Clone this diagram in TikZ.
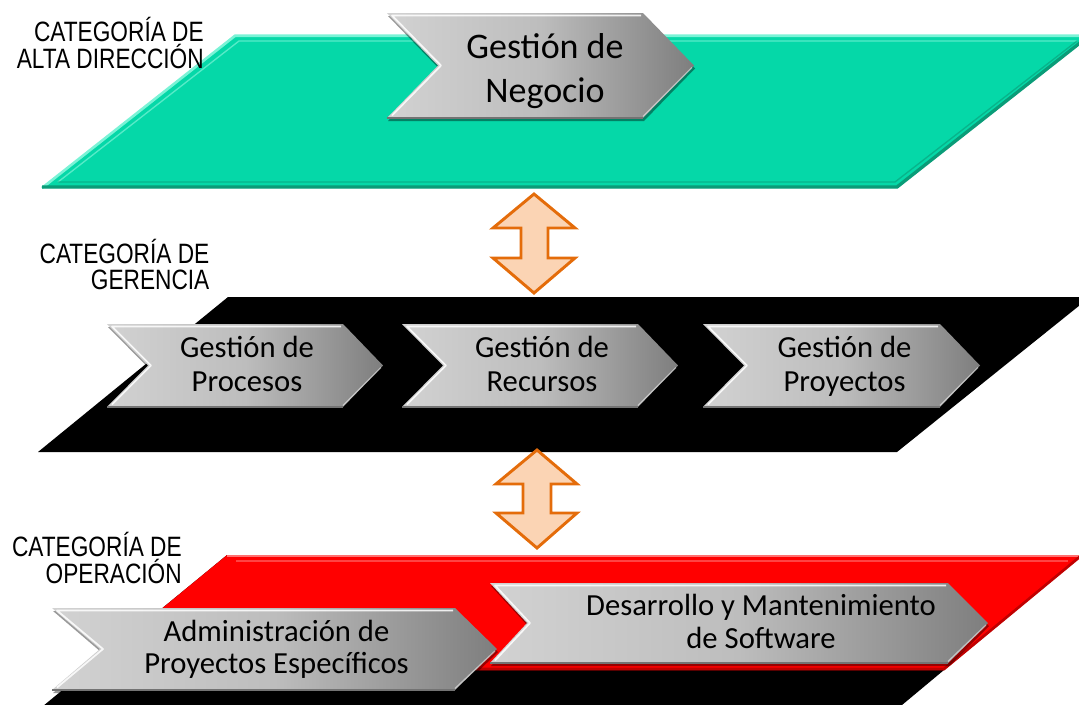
\documentclass[tikz,border=0pt]{standalone}
\usepackage{fontspec}
\setmainfont{Carlito}
\newfontfamily\narrowfont[FakeStretch=0.81]{Liberation Sans}
\definecolor{lvgreen}{HTML}{05D8A8}
\definecolor{lvgreenD}{HTML}{0A9C78}
\definecolor{lvgreenL}{HTML}{7AF3D6}
\definecolor{arrowO}{HTML}{E46C0A}
\definecolor{arrowF}{HTML}{FBD4B4}
\definecolor{chevL}{HTML}{D2D2D2}
\definecolor{chevM}{HTML}{BDBDBD}
\definecolor{chevR}{HTML}{7E7E7E}
\definecolor{redD}{HTML}{C00000}
\definecolor{redL}{HTML}{FF7070}
\newcommand\mychev[6]{%
  \fill[black,opacity=.4] ({#1+1},{#2+3}) -- ({#1+#3-#5+1},{#2+3}) -- ({#1+#3+1},{#2+#4/2+3}) -- ({#1+#3-#5+1},{#2+#4+3}) -- ({#1+1},{#2+#4+3}) -- ({#1+#6+1},{#2+#4/2+3}) -- cycle;
  \shade[left color=chevL, right color=chevR, middle color=chevM] ({#1},{#2}) -- ({#1+#3-#5},{#2}) -- ({#1+#3},{#2+#4/2}) -- ({#1+#3-#5},{#2+#4}) -- ({#1},{#2+#4}) -- ({#1+#6},{#2+#4/2}) -- cycle;
  \draw[white,line width=1.3pt,opacity=.85,line join=round] ({#1+#3-#5-2},{#2+2.5}) -- ({#1+5},{#2+2.5}) -- ({#1+#6+3},{#2+#4/2}) -- ({#1+5},{#2+#4-2.5});
  \draw[white,line width=1pt,opacity=.5] ({#1+#3-2},{#2+#4/2+2}) -- ({#1+#3-#5},{#2+#4-1.5});
  \draw[black!55,line width=0.8pt] ({#1},{#2+#4}) -- ({#1+#3-#5},{#2+#4});
}
\tikzset{
  chevtext/.style={align=center, inner sep=0pt, text=black, anchor=base},
  lbl/.style={align=right, inner sep=0pt, anchor=base east, font=\narrowfont\fontsize{21}{20}\selectfont},
  dblarrow/.style={draw=arrowO, fill=arrowF, line width=2.2pt, line join=miter},
}
\begin{document}
\begin{tikzpicture}[x=0.75pt,y=-0.75pt]
\useasboundingbox (0,0) rectangle (1079,704);
\clip (0,0) rectangle (1079,704);

% --- top layer (green)
\fill[lvgreen] (42,188) -- (235,35) -- (1090,35) -- (897,188) -- cycle;
\draw[lvgreenL,line width=2pt] (42,188) -- (235,35.8) -- (1090,35.8);
\draw[lvgreenL,opacity=.7,line width=1pt] (58,182) -- (239,41) -- (1077,41);
\draw[lvgreenD,opacity=.6,line width=1pt] (1077,41) -- (895,182) -- (58,182);
\draw[lvgreenD,line width=2.5pt] (42,187) -- (897,187) -- (1090,35);

% --- middle layer (black)
\fill[black] (38,452) -- (228,297) -- (1090,297) -- (897,452) -- cycle;

% --- bottom layer (red over black)
\fill[black] (227,555) -- (1082,555) -- (884,720) -- (26,720) -- cycle;
\fill[red] (227,555) -- (1082,555) -- (944,670) -- (87,670) -- cycle;
\draw[redL,line width=1.5pt] (227,556) -- (1082,556);
\draw[redL,opacity=.6,line width=1pt] (236,561) -- (1068,561);
\draw[redD,line width=2pt] (87,669) -- (944,669) -- (1082,555);

% --- chevrons
\mychev{387}{13}{307}{105}{51}{51}
\mychev{107}{324}{276}{83}{40}{41}
\mychev{402}{324}{276}{83}{40}{41}
\mychev{703}{324}{277}{83}{40}{41}
\mychev{490}{583}{498}{80}{40}{37}
\mychev{52}{608}{445}{82}{42}{48}

% --- chevron texts (base = baseline of last line)
\node[chevtext,font=\fontsize{27}{33}\selectfont] (negocio) at (545,102) {Gestión de\\Negocio};
\node[chevtext,font=\fontsize{23}{25}\selectfont] (procesos) at (247,391) {Gestión de\\Procesos};
\node[chevtext,font=\fontsize{23}{25}\selectfont] (recursos) at (542,391) {Gestión de\\Recursos};
\node[chevtext,font=\fontsize{23}{25}\selectfont] (proyectos) at (844.5,391) {Gestión de\\Proyectos};
\node[chevtext,font=\fontsize{23}{24.5}\selectfont] (desarrollo) at (761,648) {Desarrollo y Mantenimiento\\de Software};
\node[chevtext,font=\fontsize{23}{23.8}\selectfont] (admin) at (276.5,673) {Administración de\\Proyectos Específicos};

% --- category labels
\node[lbl] (catalta) at (204,68.4) {CATEGORÍA DE\\ALTA DIRECCIÓN};
\node[lbl] (catger) at (209.6,289.7) {CATEGORÍA DE\\GERENCIA};
\node[lbl] (catope) at (182,583.4) {CATEGORÍA DE\\OPERACIÓN};

% --- double arrows between layers
\draw[dblarrow] (534,194) -- (575,228) -- (548,228) -- (548,258) -- (575,258) -- (534,293) -- (493,258) -- (521,258) -- (521,228) -- (493,228) -- cycle;
\draw[dblarrow] (537,450) -- (577,484) -- (551,484) -- (551,513) -- (577,513) -- (537,548) -- (496,513) -- (523,513) -- (523,484) -- (496,484) -- cycle;
\end{tikzpicture}
\end{document}
